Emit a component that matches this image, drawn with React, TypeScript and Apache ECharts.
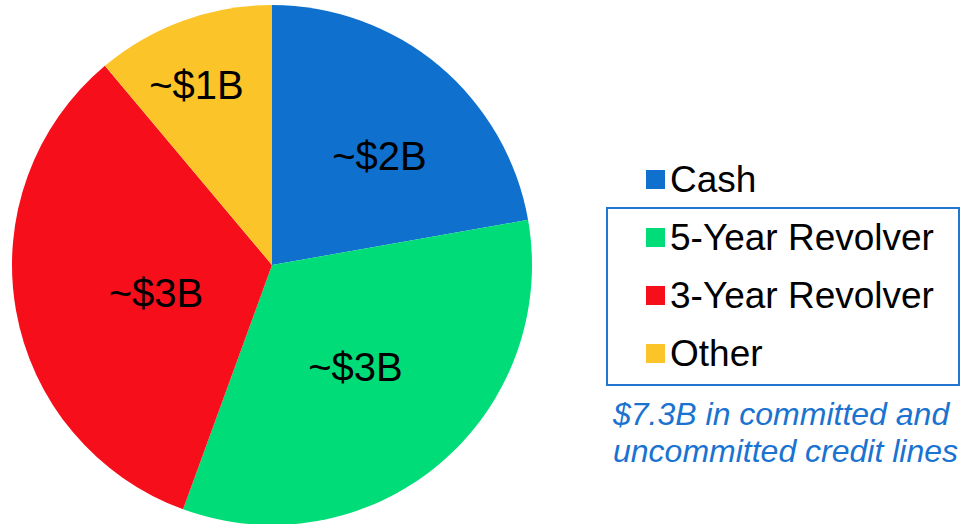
import React, { useEffect, useRef } from "react";
import * as echarts from "echarts";

const categories = ["Cash", "5-Year Revolver", "3-Year Revolver", "Other"];
const values = [2, 3, 3, 1];
const sliceLabels = ["~$2B", "~$3B", "~$3B", "~$1B"];
const colors = ["#0F70CD", "#00DC78", "#F70E1B", "#FBC428"];
const noteLines = ["$7.3B in committed and", "uncommitted credit lines"];

const FONT = "'Liberation Sans', Arial, Helvetica, sans-serif";
const labelOffsets: [number, number][] = [
  [22, -7],
  [-2, 0],
  [15, 5],
  [-30, -55],
];

export default function App() {
  const ref = useRef<HTMLDivElement>(null);
  useEffect(() => {
    if (!ref.current) return;
    const chart = echarts.init(ref.current, undefined, { renderer: "svg" });
    chart.setOption({
      animation: false,
      backgroundColor: "#ffffff",
      legend: {
        orient: "vertical",
        left: 641,
        top: 156,
        itemWidth: 19,
        itemHeight: 19,
        itemGap: 21,
        icon: "rect",
        selectedMode: false,
        data: categories,
        textStyle: {
          fontFamily: FONT,
          fontSize: 37,
          lineHeight: 37,
          color: "#000000",
        },
      },
      graphic: [
        {
          type: "rect",
          shape: { x: 607, y: 208, width: 352, height: 177 },
          style: { fill: "none", stroke: "#2176D2", lineWidth: 2 },
          silent: true,
        },
        {
          type: "text",
          left: 613,
          top: 395,
          style: {
            text: noteLines.join("\n"),
            font: `italic 32px ${FONT}`,
            fill: "#1A73D0",
            lineHeight: 37,
          },
          silent: true,
        },
      ],
      series: [
        {
          type: "pie",
          center: [272, 265],
          radius: 260,
          startAngle: 90,
          clockwise: true,
          silent: true,
          itemStyle: { borderWidth: 0 },
          label: {
            show: true,
            position: "inside",
            fontFamily: FONT,
            fontSize: 40,
            color: "#000000",
          },
          labelLine: { show: false },
          data: categories.map((name, i) => ({
            name,
            value: values[i],
            itemStyle: { color: colors[i] },
            label: { formatter: sliceLabels[i], offset: labelOffsets[i] },
          })),
        },
      ],
    });
    return () => chart.dispose();
  }, []);
  return (
    <div
      ref={ref}
      style={{ position: "fixed", left: 0, top: 0, width: 961, height: 524 }}
    />
  );
}
